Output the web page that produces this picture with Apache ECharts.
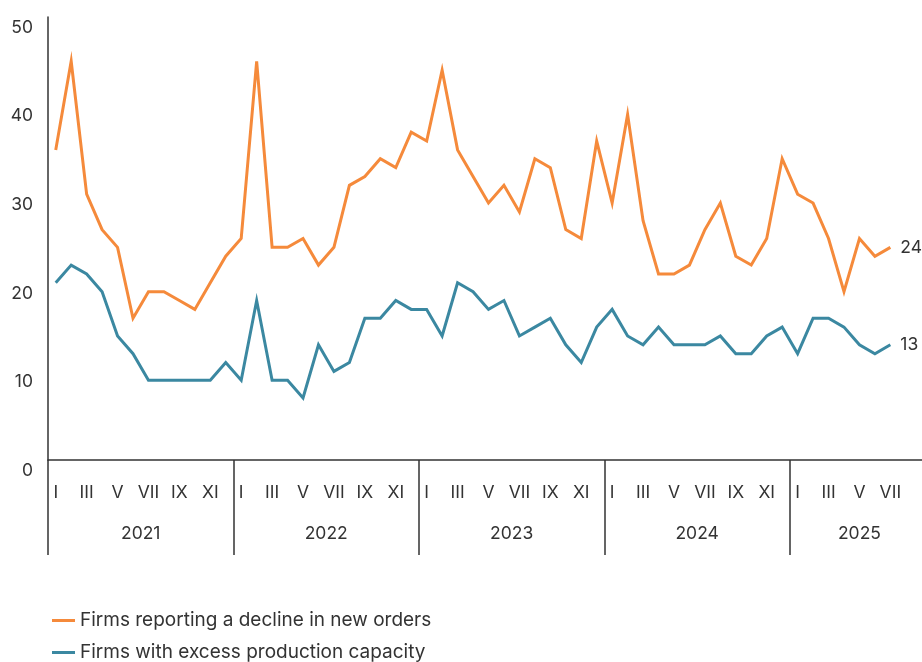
<!DOCTYPE html>
<html>
<head>
<meta charset="utf-8">
<script src="https://cdn.jsdelivr.net/npm/echarts@6/dist/echarts.min.js"></script>
<style>
html,body{margin:0;padding:0;background:#fff;}
#chart{width:922px;height:662px;}
</style>
</head>
<body>
<div id="chart"></div>
<script>
// ---- data ----
const years = ['2021', '2022', '2023', '2024', '2025'];
const monthsPerYear = [12, 12, 12, 12, 9]; // axis span per year (2025 axis runs to IX)
const romanMonths = ['I','II','III','IV','V','VI','VII','VIII','IX','X','XI','XII'];
const dataMonths2025 = 7; // data through July 2025

const declineNewOrders = [
  35,45,30,26,24,16,19,19,18,17,20,23,
  25,45,24,24,25,22,24,31,32,34,33,37,
  36,44,35,32,29,31,28,34,33,26,25,36,
  29,39,27,21,21,22,26,29,23,22,25,34,
  30,29,25,19,25,23,24
];
const excessCapacity = [
  20,22,21,19,14,12,9,9,9,9,9,11,
  9,18,9,9,7,13,10,11,16,16,18,17,
  17,14,20,19,17,18,14,15,16,13,11,15,
  17,14,13,15,13,13,13,14,12,12,14,15,
  12,16,16,15,13,12,13
];
const seriesNames = ['Firms reporting a decline in new orders', 'Firms with excess production capacity'];
const yTicks = [0, 10, 20, 30, 40, 50];

// ---- build categories ----
const categories = [];
years.forEach((y, yi) => {
  for (let m = 0; m < monthsPerYear[yi]; m++) {
    const hasData = yi < years.length - 1 || m < dataMonths2025;
    categories.push(hasData ? romanMonths[m] : '');
  }
});
const totalMonths = categories.length;
const yearMids = [];
let acc = 0;
monthsPerYear.forEach(n => { yearMids.push(acc + n / 2); acc += n; });

const FONT = 'Inter';
const TXT = '#333333';
const ORANGE = '#F58A3B';
const BLUE = '#3B88A1';
const AXFS = 17.5;

const chart = echarts.init(document.getElementById('chart'), null, {renderer: 'canvas'});
chart.setOption({
  animation: false,
  backgroundColor: '#ffffff',
  textStyle: {fontFamily: FONT},
  grid: {left: 48, top: 17, right: -7, bottom: 202, containLabel: false, outerBoundsMode: 'none'},
  legend: {
    orient: 'vertical', left: 52, top: 611, height: 80, padding: 0,
    icon: 'rect', itemWidth: 23, itemHeight: 3, itemGap: 13,
    textStyle: {fontFamily: FONT, fontSize: 19, lineHeight: 19, color: TXT},
    data: seriesNames
  },
  xAxis: [
    {
      type: 'category', data: categories, boundaryGap: true, position: 'bottom',
      axisLine: {show: true, lineStyle: {color: '#333', width: 1.5}},
      axisTick: {show: false},
      axisLabel: {interval: 1, margin: 24, fontFamily: FONT, fontSize: AXFS, color: TXT},
      splitLine: {show: false}
    },
    {
      type: 'value', min: 0, max: totalMonths, interval: 12, position: 'bottom',
      axisLine: {show: false},
      axisTick: {show: true, length: 95, lineStyle: {color: '#333', width: 1.5}},
      axisLabel: {show: false},
      splitLine: {show: false}
    },
    {
      type: 'value', min: 0, max: totalMonths, interval: 1.5, position: 'bottom',
      axisLine: {show: false},
      axisTick: {show: false},
      axisLabel: {
        margin: 65, fontFamily: FONT, fontSize: AXFS, color: TXT,
        showMinLabel: false, showMaxLabel: false,
        formatter: v => {
          const i = yearMids.findIndex(m => Math.abs(m - v) < 0.01);
          return i >= 0 ? years[i] : '';
        }
      },
      splitLine: {show: false}
    }
  ],
  yAxis: {
    type: 'value', min: yTicks[0], max: yTicks[yTicks.length - 1], interval: 10,
    axisLine: {show: true, lineStyle: {color: '#333', width: 1.5}},
    axisTick: {show: false},
    splitLine: {show: false},
    axisLabel: {
      margin: 15, fontFamily: FONT, fontSize: AXFS, color: TXT,
      verticalAlign: 'top', lineHeight: 21
    }
  },
  series: [
    {
      name: seriesNames[0], type: 'line', data: declineNewOrders,
      xAxisIndex: 0, yAxisIndex: 0,
      showSymbol: false, symbol: 'none',
      lineStyle: {color: ORANGE, width: 3, join: 'miter'},
      itemStyle: {color: ORANGE},
      endLabel: {show: true, formatter: '{c}', distance: 10, fontFamily: FONT, fontSize: AXFS, color: TXT}
    },
    {
      name: seriesNames[1], type: 'line', data: excessCapacity,
      xAxisIndex: 0, yAxisIndex: 0,
      showSymbol: false, symbol: 'none',
      lineStyle: {color: BLUE, width: 3, join: 'miter'},
      itemStyle: {color: BLUE},
      endLabel: {show: true, formatter: '{c}', distance: 10, fontFamily: FONT, fontSize: AXFS, color: TXT}
    }
  ]
});
</script>
</body>
</html>
